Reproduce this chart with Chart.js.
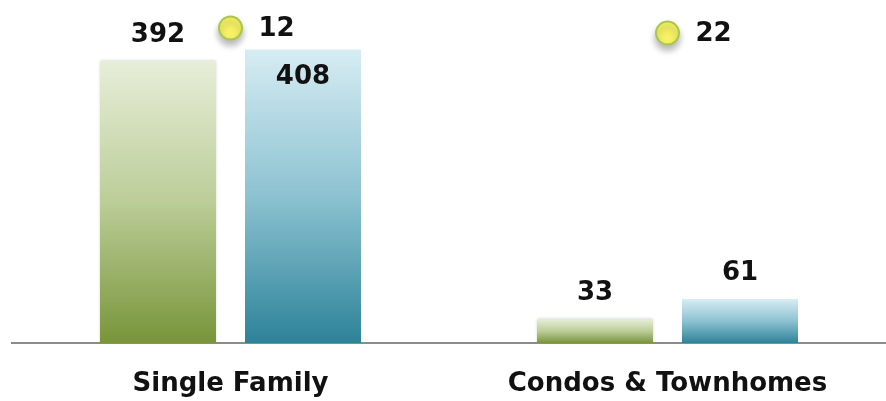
<!DOCTYPE html>
<html>
<head>
<meta charset="utf-8">
<script src="https://cdn.jsdelivr.net/npm/chart.js@4/dist/chart.umd.min.js"></script>
<style>
  html, body { margin: 0; padding: 0; background: #ffffff; }
  #wrap { width: 886px; height: 401px; }
</style>
</head>
<body>
<div id="wrap"><canvas id="c" width="886" height="401"></canvas></div>
<script>
// Home sales by property type
const categories = ['Single Family', 'Condos & Townhomes'];
const seriesGreen = [392, 33];
const seriesBlue = [408, 61];
const changeValues = [12, 22];

const FONT = '"DejaVu Sans", Verdana, sans-serif';

function barGradient(stops, chart, value) {
  const y = chart.scales.y;
  if (!y || !chart.chartArea) return stops[2];
  const y0 = y.getPixelForValue(value);
  const y1 = y.getPixelForValue(0);
  const g = chart.ctx.createLinearGradient(0, y0, 0, y1);
  g.addColorStop(0, stops[0]);
  g.addColorStop(0.5, stops[1]);
  g.addColorStop(1, stops[2]);
  return g;
}

// Shadows under bars and markers
const shadowPlugin = {
  id: 'softShadow',
  beforeDatasetDraw(chart, args) {
    const c = chart.ctx;
    c.save();
    if (args.index === 2) {
      c.shadowColor = 'rgba(0,0,0,0.28)';
      c.shadowBlur = 7;
      c.shadowOffsetY = 5;
    } else if (args.index === 0) {
      c.shadowColor = 'rgba(0,0,0,0.22)';
      c.shadowBlur = 3;
    }
  },
  afterDatasetDraw(chart) {
    chart.ctx.restore();
  }
};

// Value labels
const labelPlugin = {
  id: 'valueLabels',
  afterDatasetsDraw(chart) {
    const c = chart.ctx;
    c.save();
    c.font = 'bold 26px ' + FONT;
    c.fillStyle = '#111111';
    c.textBaseline = 'middle';
    chart.data.datasets.forEach((ds, i) => {
      const meta = chart.getDatasetMeta(i);
      meta.data.forEach((el, j) => {
        const v = ds.data[j];
        if (ds.type === 'line') {
          c.textAlign = 'left';
          c.fillText(String(v), el.x + 28, el.y + 1);
        } else {
          c.textAlign = 'center';
          const inside = ds.labelInside && ds.labelInside[j];
          const y = inside ? el.y + 28 : el.y - 26;
          c.fillText(String(v), el.x, y);
        }
      });
    });
    c.restore();
  }
};

new Chart(document.getElementById('c'), {
  data: {
    labels: categories,
    datasets: [
      {
        type: 'bar',
        data: seriesGreen,
        yAxisID: 'y',
        order: 2,
        backgroundColor: (ctx) => barGradient(['#e7eed9', '#bccd98', '#78953a'], ctx.chart, seriesGreen[ctx.dataIndex] || 0),
        barPercentage: 0.8,
        categoryPercentage: 0.6636,
        labelInside: [false, false]
      },
      {
        type: 'bar',
        data: seriesBlue,
        yAxisID: 'y',
        order: 2,
        backgroundColor: (ctx) => barGradient(['#d7ecf3', '#8cc2d1', '#2d8399'], ctx.chart, seriesBlue[ctx.dataIndex] || 0),
        barPercentage: 0.8,
        categoryPercentage: 0.6636,
        labelInside: [true, false]
      },
      {
        type: 'line',
        data: changeValues,
        yAxisID: 'y2',
        order: 1,
        showLine: false,
        pointRadius: 11.5,
        pointBackgroundColor: '#f7f265',
        pointBorderColor: '#a9c74b',
        pointBorderWidth: 2
      }
    ]
  },
  options: {
    responsive: false,
    animation: false,
    events: [],
    layout: { autoPadding: false, padding: { left: 12, right: 0, top: 0, bottom: 0 } },
    plugins: { legend: { display: false }, tooltip: { enabled: false } },
    scales: {
      x: {
        offset: true,
        grid: { display: false, drawTicks: false },
        border: { display: true, color: '#8c8c8c', width: 2 },
        ticks: {
          font: { family: FONT, size: 26, weight: 'bold' },
          color: '#111111',
          padding: 26
        },
        afterFit(scale) { scale.height = 58; }
      },
      y: {
        display: false,
        min: 0,
        max: 476.8
      },
      y2: {
        display: false,
        reverse: true,
        min: -44,
        max: 642
      }
    }
  },
  plugins: [shadowPlugin, labelPlugin]
});
</script>
</body>
</html>
